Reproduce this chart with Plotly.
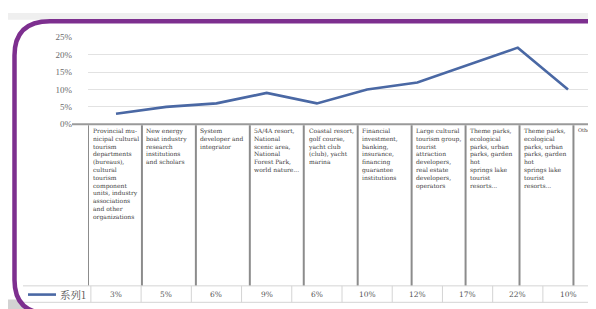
import plotly.graph_objects as go

# ---------------- data ----------------
categories = [
    "Provincial mu-\nnicipal cultural\ntourism\ndepartments\n(bureaus),\ncultural\ntourism\ncomponent\nunits, industry\nassociations\nand other\norganizations",
    "New energy\nboat industry\nresearch\ninstitutions\nand scholars",
    "System\ndeveloper and\nintegrator",
    "5A/4A resort,\nNational\nscenic area,\nNational\nForest Park,\nworld nature...",
    "Coastal resort,\ngolf course,\nyacht club\n(club), yacht\nmarina",
    "Financial\ninvestment,\nbanking,\ninsurance,\nfinancing\nguarantee\ninstitutions",
    "Large cultural\ntourism group,\ntourist\nattraction\ndevelopers,\nreal estate\ndevelopers,\noperators",
    "Theme parks,\necological\nparks, urban\nparks, garden\nhot\nsprings lake\ntourist\nresorts...",
    "Theme parks,\necological\nparks, urban\nparks, garden\nhot\nsprings lake\ntourist\nresorts...",
    "Others",
]
values = [0.03, 0.05, 0.06, 0.09, 0.06, 0.10, 0.12, 0.17, 0.22, 0.10]
value_labels = ["3%", "5%", "6%", "9%", "6%", "10%", "12%", "17%", "22%", "10%"]
series_name = "系列1"
y_ticks = [0, 0.05, 0.10, 0.15, 0.20, 0.25]

# ---------------- geometry helpers ----------------
W, H = 596, 309
def px(x):
    return x / W
def py(y):
    return 1 - y / H

LINE_COLOR = "#4a68a4"
PURPLE = "#7d2f8f"
GRID = "#e2e2e2"
DIV = "#8c8c8c"
TEXT = "#3e3e3e"
SERIF = "Liberation Serif"

fig = go.Figure()
fig.add_trace(go.Scatter(
    x=list(range(len(values))), y=values, mode="lines",
    line=dict(color=LINE_COLOR, width=2.6), name=series_name,
    showlegend=False, hoverinfo="skip",
))

shapes = []
annotations = []

# background strip above frame
shapes.append(dict(type="rect", xref="paper", yref="paper",
                   x0=0, x1=1, y0=py(7), y1=1, fillcolor="#efefef",
                   line=dict(width=0), layer="below"))
# gray outside bottom-left corner
shapes.append(dict(type="path", xref="paper", yref="paper",
                   path=f"M 0,{py(296)} L {px(10)},{py(296)} Q {px(14)},{py(306)} {px(30)},{py(312)} L 0,{py(312)} Z",
                   fillcolor="#d2d2d2", line=dict(width=0), layer="below"))

# category area dividers (columns of the category axis)
n_cols = len(categories)
for i in range(n_cols):
    shapes.append(dict(type="line", xref="x2", yref="paper",
                       x0=i, x1=i, y0=py(116), y1=py(282),
                       line=dict(color=DIV, width=2)))
# axis baseline
shapes.append(dict(type="line", xref="paper", yref="paper",
                   x0=px(64), x1=1, y0=py(115), y1=py(115),
                   line=dict(color="#9a9a9a", width=2)))

for i, lab in enumerate(categories):
    is_last = i == n_cols - 1
    annotations.append(dict(
        xref="x2", yref="paper", x=i, y=py(116), xshift=2.5,
        xanchor="left", yanchor="top", align="left", showarrow=False,
        text=lab.replace("\n", "<br>"),
        font=dict(family="DejaVu Serif", size=5 if is_last else 6, color=TEXT),
    ))

# data table
tbl_top, tbl_bot = 282, 299
shapes.append(dict(type="line", xref="paper", yref="paper",
                   x0=px(15), x1=px(585), y0=py(tbl_top), y1=py(tbl_top),
                   line=dict(color="#d4d4d4", width=1)))
shapes.append(dict(type="line", xref="paper", yref="paper",
                   x0=px(15), x1=px(585), y0=py(tbl_bot), y1=py(tbl_bot),
                   line=dict(color="#d4d4d4", width=1)))
for i in range(len(values) + 1):
    shapes.append(dict(type="line", xref="x", yref="paper",
                       x0=i - 0.5, x1=i - 0.5, y0=py(tbl_top), y1=py(tbl_bot),
                       line=dict(color="#d4d4d4", width=1)))
for i, t in enumerate(value_labels):
    annotations.append(dict(
        xref="x", yref="paper", x=i, y=py((tbl_top + tbl_bot) / 2),
        xanchor="center", yanchor="middle", showarrow=False, text=t,
        font=dict(family="DejaVu Serif", size=7.5, color="#555555"),
    ))
# legend key inside table
shapes.append(dict(type="line", xref="paper", yref="paper",
                   x0=px(20), x1=px(48), y0=py(291), y1=py(291),
                   line=dict(color=LINE_COLOR, width=2.6)))
annotations.append(dict(
    xref="paper", yref="paper", x=px(50), y=py(291),
    xanchor="left", yanchor="middle", showarrow=False, text=series_name,
    font=dict(family="Noto Serif CJK SC, Noto Sans CJK SC", size=10.5, color="#555555"),
))

# purple rounded frame
shapes.append(dict(type="path", xref="paper", yref="paper",
                   path=(f"M {px(6.5)},{py(276)} L {px(6.5)},{py(44)} "
                         f"Q {px(6.5)},{py(8.5)} {px(42)},{py(8.5)} L {px(600)},{py(8.5)} "
                         f"M {px(6.5)},{py(276)} Q {px(6.5)},{py(311)} {px(42)},{py(311)}"),
                   line=dict(color=PURPLE, width=4.5)))

fig.update_layout(
    width=W, height=H, autosize=False,
    margin=dict(l=0, r=0, t=0, b=0),
    paper_bgcolor="white", plot_bgcolor="rgba(0,0,0,0)",
    showlegend=False,
    xaxis=dict(domain=[px(80), px(588)], range=[-0.5575, 9.5575],
               visible=False, fixedrange=True),
    yaxis=dict(domain=[py(115), py(25)], range=[0, 0.25],
               tickvals=y_ticks, tickformat=".0%",
               showgrid=True, gridcolor=GRID, gridwidth=1,
               zeroline=False, showline=False, ticks="",
               ticklabelstandoff=15,
               tickfont=dict(family=SERIF, size=9, color="#6a6a6a")),
    xaxis2=dict(domain=[px(70), 1], range=[0, (596 - 70) / 55.85],
                anchor="y", overlaying="x", visible=False),
    shapes=shapes,
    annotations=annotations,
)

fig.write_html("out.html")
